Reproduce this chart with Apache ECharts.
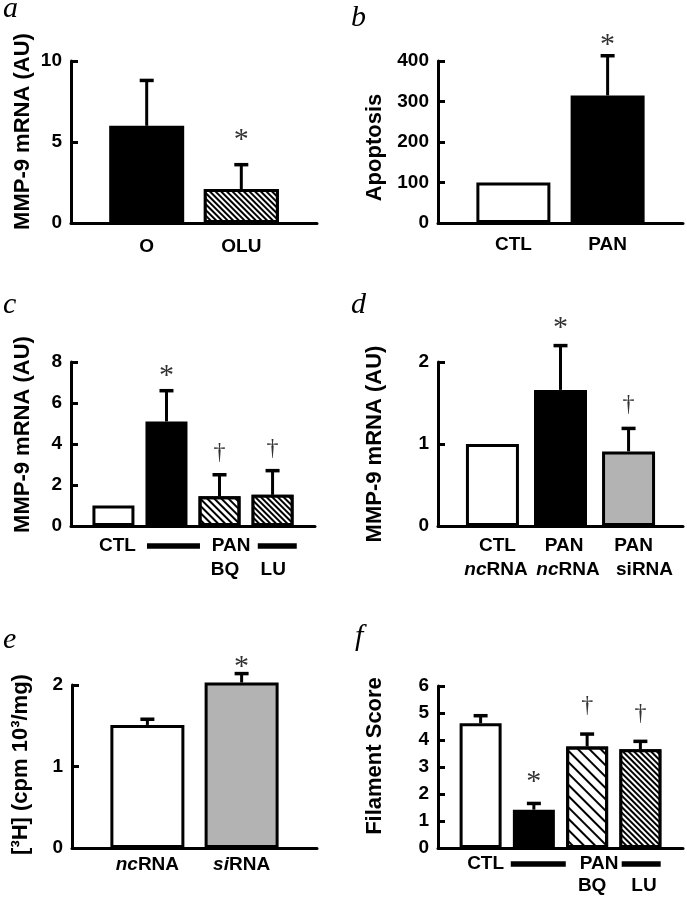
<!DOCTYPE html>
<html><head><meta charset="utf-8">
<script src="https://cdn.jsdelivr.net/npm/echarts@6/dist/echarts.min.js"></script>
<style>html,body{margin:0;padding:0;background:#fff}#chart{width:687px;height:899px}</style>
</head><body><div id="chart"></div>
<script>
// ---------------- DATA ----------------
// Panel a
const aRow1 = ['O', 'OLU'];
const aRow2 = ['', ''];
const aMeans = [6.0, 2.1];
const aErrors = [2.8, 1.5];
const aMarks = ['', '*'];
const aTicks = [0, 5, 10];
const aTitle = 'MMP-9 mRNA (AU)';
// Panel b
const bRow1 = ['CTL', 'PAN'];
const bRow2 = ['', ''];
const bMeans = [100, 315];
const bErrors = [0, 98];
const bMarks = ['', '*'];
const bTicks = [0, 100, 200, 300, 400];
const bTitle = 'Apoptosis';
// Panel c  ('' in row 1 = black PAN bar)
const cRow1 = ['CTL', '', 'PAN', ''];
const cRow2 = ['', '', 'BQ', 'LU'];
const cMeans = [1.0, 5.1, 1.45, 1.52];
const cErrors = [0, 1.5, 1.05, 1.18];
const cMarks = ['', '*', '†', '†'];
const cTicks = [0, 2, 4, 6, 8];
const cTitle = 'MMP-9 mRNA (AU)';
// Panel d
const dRow1 = ['CTL', 'PAN', 'PAN'];
const dRow2 = ['ncRNA', 'ncRNA', 'siRNA'];
const dMeans = [1.0, 1.66, 0.91];
const dErrors = [0, 0.54, 0.28];
const dMarks = ['', '*', '†'];
const dTicks = [0, 1, 2];
const dTitle = 'MMP-9 mRNA (AU)';
// Panel e
const eRow1 = ['ncRNA', 'siRNA'];
const eRow2 = ['', ''];
const eMeans = [1.51, 2.03];
const eErrors = [0.07, 0.11];
const eMarks = ['', '*'];
const eTicks = [0, 1, 2];
const eTitle = '[³H] (cpm 10³/mg)';
// Panel f
const fRow1 = ['CTL', '', 'PAN', ''];
const fRow2 = ['', '', 'BQ', 'LU'];
const fMeans = [4.62, 1.42, 3.76, 3.66];
const fErrors = [0.28, 0.23, 0.46, 0.29];
const fMarks = ['', '*', '†', '†'];
const fTicks = [0, 1, 2, 3, 4, 5, 6];
const fTitle = 'Filament Score';
const letters = ['a', 'b', 'c', 'd', 'e', 'f'];

// ---------------- STYLE / LAYOUT ----------------
const SANS = '"Liberation Sans", Arial, Helvetica, sans-serif';
const SERIF = '"Liberation Serif", "Times New Roman", serif';
const hatch = (bg, fg, on, off) => ({
  color: bg,
  decal: { symbol: 'rect', symbolSize: 1, color: fg, backgroundColor: null,
           dashArrayX: [1, 0], dashArrayY: [on, off], rotation: Math.PI / 4 }
});
const FILLS = {
  black: { color: '#000' },
  white: { color: '#fff' },
  grey: { color: '#b3b3b3' },
  hatchWB: hatch('#000', '#fff', 2, 2),
  hatchBW: hatch('#fff', '#000', 1.5, 2.5),
  hatchBWsparse: hatch('#fff', '#000', 1.5, 6)
};

const panels = [
  { row1: aRow1, row2: aRow2, means: aMeans, errs: aErrors, marks: aMarks, ticks: aTicks, title: aTitle,
    grid: { left: 71, top: 61, width: 246, height: 162 }, xMax: 2.8, barW: 75,
    fills: ['black', 'hatchWB'], nameGap: 37, nameShift: 10.5, markGap: 32, labelMargin: 12, lh: 24,
    shift1: [0, 0], shift2: [0, 0], barLen: [0, 0], italic: [], letter: [3, 9.5] },
  { row1: bRow1, row2: bRow2, means: bMeans, errs: bErrors, marks: bMarks, ticks: bTicks, title: bTitle,
    grid: { left: 438, top: 61, width: 245, height: 162 }, xMax: 2.8, barW: 74,
    fills: ['white', 'black'], nameGap: 52, nameShift: -5.5, markGap: 18, labelMargin: 10, lh: 24,
    shift1: [0, 0], shift2: [0, 0], barLen: [0, 0], italic: [], letter: [351, 18.5] },
  { row1: cRow1, row2: cRow2, means: cMeans, errs: cErrors, marks: cMarks, ticks: cTicks, title: cTitle,
    grid: { left: 71, top: 362, width: 244, height: 164 }, xMax: 4.8, barW: 42,
    fills: ['white', 'black', 'hatchBW', 'hatchWB'], nameGap: 37, nameShift: 9.5, markGap: 22, labelMargin: 8, lh: 24,
    shift1: [4, 7, 11.5, 4.7], shift2: [0, 0, 5.5, 0.7], barLen: [0, 53, 0, 39], italic: [], letter: [3, 305.5] },
  { row1: dRow1, row2: dRow2, means: dMeans, errs: dErrors, marks: dMarks, ticks: dTicks, title: dTitle,
    grid: { left: 438, top: 362, width: 245, height: 164 }, xMax: 3.8, barW: 53,
    fills: ['white', 'black', 'grey'], nameGap: 52, nameShift: 0, markGap: 24, labelMargin: 8, lh: 24,
    shift1: [5, 3.7, 5], shift2: [3.5, 7.5, 16], barLen: [0, 0, 0], italic: ['nc'], letter: [351, 305.5] },
  { row1: eRow1, row2: eRow2, means: eMeans, errs: eErrors, marks: eMarks, ticks: eTicks, title: eTitle,
    grid: { left: 72, top: 685, width: 245, height: 163 }, xMax: 2.8, barW: 74,
    fills: ['white', 'grey'], nameGap: 40, nameShift: 2, markGap: 13, labelMargin: 5, lh: 24,
    shift1: [0, 0], shift2: [0, 0], barLen: [0, 0], italic: ['nc', 'si'], letter: [3, 640.5] },
  { row1: fRow1, row2: fRow2, means: fMeans, errs: fErrors, marks: fMarks, ticks: fTicks, title: fTitle,
    grid: { left: 438, top: 686, width: 245, height: 162 }, xMax: 4.8, barW: 42,
    fills: ['white', 'black', 'hatchBWsparse', 'hatchWB'], nameGap: 52, nameShift: 11, markGap: 28, labelMargin: 5, lh: 22,
    shift1: [5, 4.4, 12, 0.8], shift2: [0, 0, 5, 3.6], barLen: [0, 55, 0, 39], italic: [], letter: [355, 637.5] }
];

const LABEL_SIZE = 19;
const grids = [], xAxes = [], yAxes = [], series = [], graphics = [];

panels.forEach((p, pi) => {
  grids.push(Object.assign({ containLabel: false, outerBoundsMode: 'none' }, p.grid));
  const X_MIN = 0.2;
  const ppu = p.grid.width / (p.xMax - X_MIN);
  const base = { fontFamily: SANS, fontSize: LABEL_SIZE, fontWeight: 'bold', color: '#000', lineHeight: p.lh };
  const rich = {
    n: Object.assign({}, base),
    i: Object.assign({}, base, { fontStyle: 'italic' })
  };
  p.row1.forEach((_, k) => {
    rich['bar' + k] = Object.assign({}, base, { width: p.barLen[k] || 40, height: 5.5, backgroundColor: '#000' });
  });
  const fmt = (txt, k) => {
    if (txt === '') return '{bar' + k + '| }';
    for (const pre of p.italic) {
      if (txt.startsWith(pre)) return '{i|' + pre + '}{n|' + txt.slice(pre.length) + '}';
    }
    return '{n|' + txt + '}';
  };
  const rowAxis = (row, shifts, offset, showLine) => ({
    type: 'value', gridIndex: pi, min: X_MIN, max: p.xMax, position: 'bottom', offset: offset,
    axisLine: { show: showLine, onZero: false, lineStyle: { color: '#000', width: 3 } },
    axisTick: { show: false }, splitLine: { show: false },
    axisLabel: {
      show: true, margin: p.labelMargin, rich: rich, hideOverlap: false,
      customValues: row.map((t, k) => ({ t, v: k + 1 + (shifts[k] || 0) / ppu }))
        .filter((o, k) => showLine || o.t !== '').map(o => o.v),
      formatter: (v) => { const k = Math.round(v) - 1; return fmt(row[k], k); }
    }
  });
  xAxes.push(rowAxis(p.row1, p.shift1, 0, true));
  const xIdx = xAxes.length - 1;
  if (p.row2.some(t => t !== '')) xAxes.push(rowAxis(p.row2, p.shift2, p.lh, false));

  const sh = p.nameShift;
  yAxes.push({
    type: 'value', gridIndex: pi, min: p.ticks[0], max: p.ticks[p.ticks.length - 1],
    interval: p.ticks[1] - p.ticks[0],
    axisLine: { show: true, lineStyle: { color: '#000', width: 3 } },
    axisTick: { show: true, inside: true, length: 7, lineStyle: { color: '#000', width: 3 } },
    splitLine: { show: false },
    axisLabel: { color: '#000', fontFamily: SANS, fontSize: LABEL_SIZE, fontWeight: 'bold', margin: 9 },
    name: p.title, nameLocation: 'middle', nameGap: p.nameGap, nameRotate: 90,
    nameTextStyle: { color: '#000', fontFamily: SANS, fontSize: 22, fontWeight: 'bold',
      padding: sh >= 0 ? [0, 0, 0, 2 * sh] : [0, -2 * sh, 0, 0] }
  });
  series.push({
    type: 'bar', xAxisIndex: xIdx, yAxisIndex: pi, barWidth: p.barW, clip: false, silent: true,
    data: p.means.map((m, k) => ({
      value: [k + 1, m],
      itemStyle: Object.assign({ borderColor: '#000', borderWidth: 3 }, FILLS[p.fills[k]])
    })),
    z: 2
  });
  series.push({
    type: 'custom', xAxisIndex: xIdx, yAxisIndex: pi, clip: false, silent: true, z: 3,
    data: p.means.map((m, k) => [k + 1, m, p.errs[k]]),
    renderItem: (params, api) => {
      const x = api.value(0), m = api.value(1), e = api.value(2);
      const b = api.coord([x, m]);
      const t = api.coord([x, m + e]);
      const children = [];
      if (e > 0) {
        children.push({ type: 'line', shape: { x1: b[0], y1: b[1], x2: t[0], y2: t[1] },
          style: { stroke: '#000', lineWidth: 3 } });
        children.push({ type: 'line', shape: { x1: t[0] - 7, y1: t[1], x2: t[0] + 7, y2: t[1] },
          style: { stroke: '#000', lineWidth: 3.5 } });
      }
      const mark = p.marks[params.dataIndex];
      if (mark) {
        const isStar = mark === '*';
        children.push({ type: 'text', x: t[0], y: t[1] - p.markGap + (isStar ? 7 : 0),
          style: { text: mark, fill: '#333', align: 'center', verticalAlign: 'middle',
            font: (isStar ? '30px ' : '24px ') + SERIF } });
      }
      return { type: 'group', children };
    }
  });
  graphics.push({ type: 'text', x: p.letter[0], y: p.letter[1],
    style: { text: letters[pi], fill: '#000', font: 'italic 30px ' + SERIF, verticalAlign: 'middle' } });
});

const chart = echarts.init(document.getElementById('chart'), null, { renderer: 'canvas' });
chart.setOption({
  animation: false,
  backgroundColor: '#fff',
  textStyle: { fontFamily: SANS },
  grid: grids, xAxis: xAxes, yAxis: yAxes, series: series,
  graphic: { elements: graphics }
});
</script></body></html>
